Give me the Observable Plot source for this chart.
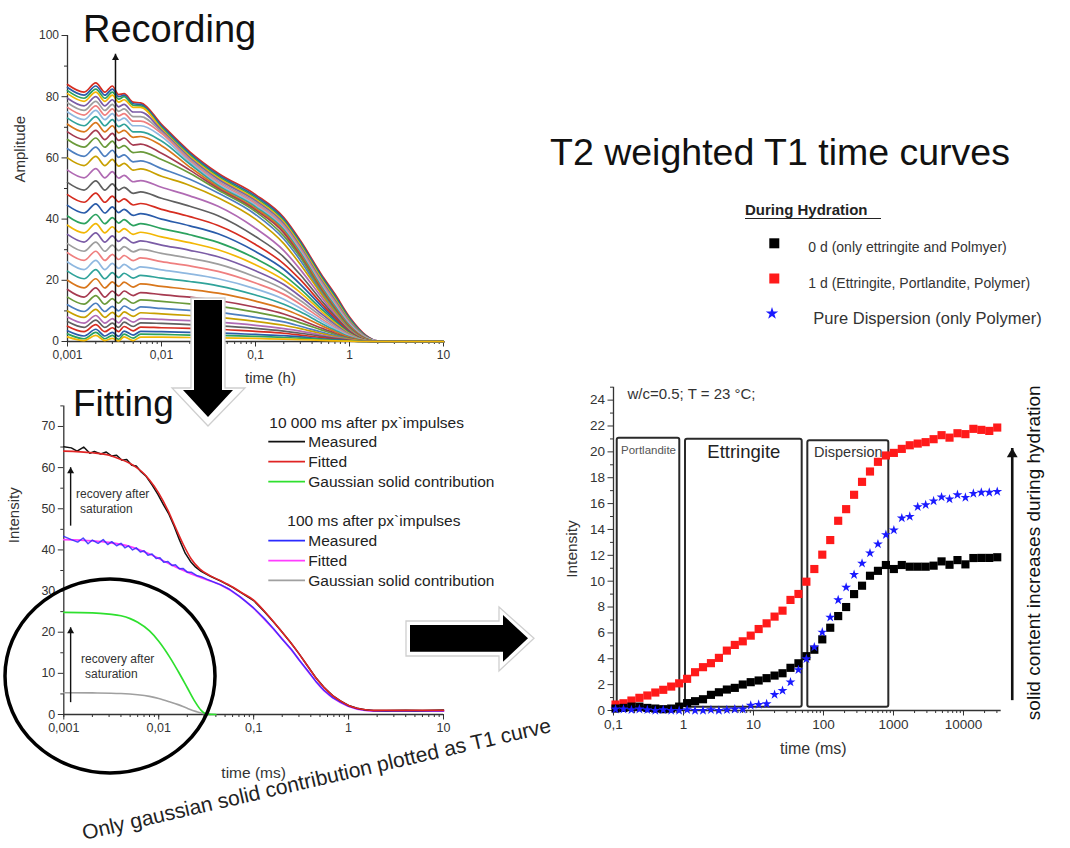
<!DOCTYPE html>
<html><head><meta charset="utf-8">
<script src="https://cdn.jsdelivr.net/npm/d3@7"></script>
<script src="https://cdn.jsdelivr.net/npm/@observablehq/plot@0.6"></script>
<style>
body{margin:0;background:#fff;}
#root{position:relative;width:1070px;height:848px;overflow:hidden;background:#fff;font-family:'Liberation Sans',Arial,Helvetica,sans-serif;}
#root svg.plot{position:absolute;}
</style></head><body><div id="root"></div>
<script>
// ---------- Recording panel data (amplitude vs time in h) ----------
const recTimes = [0.001,0.0015,0.002,0.0025,0.003,0.0035,0.004,0.005,0.006,0.01,0.02,0.04,0.1,0.2,0.3,0.5,0.7,1,1.5,2,10];
const recCurves = [
[84,81.5,84.5,81.5,83.5,80.7,81,78.2,78,71,62,55,48,40.5,33,22,15.5,8,2,0.2,0],
[83,80.5,83.5,80.5,82.5,80,80.5,77.7,77.5,70.5,61.5,54.5,47.5,40,32.5,21.5,15,7.6,1.8,0.2,0],
[82,79.5,82.5,79.5,81.5,79.2,80,77.2,77,70,61,54,47,39.5,32,21,14.5,7.2,1.6,0.1,0],
[81,78.5,81.5,78.5,80.5,78.2,79,76.5,76.5,69.5,60.5,53.5,46.5,39,31.5,20.5,14,6.8,1.5,0.1,0],
[79.5,77,80,77,79,76.7,77.5,75,75,69,60,53,46,38.5,31,20,13.5,6.5,1.4,0.1,0],
[78,75.5,78.5,75.5,77.5,75.2,76,73.5,73.5,68.5,59.5,52.5,45.5,38,30.5,19.5,13,6.2,1.3,0.1,0],
[76.5,74,77,74,76,73.7,74.5,72,72,68,59,52,45,37.5,30,19,12.5,5.9,1.2,0.1,0],
[75,72.5,75.5,72.5,74.5,72.2,73,70.5,70.5,67,58.5,51.5,44.5,37,29.5,18.5,12,5.6,1.1,0.1,0],
[73,70.5,73.5,70.5,72.5,70.2,71,68.5,68.5,65.5,58,51,44,36.5,29,18,11.5,5.3,1,0,0],
[71,68.5,71.5,68.5,70.5,68.2,69,66.7,67,64,57,50.5,43.5,36,28.5,17.5,11,5,0.9,0,0],
[68.5,66,69,66,68,65.7,66.5,64.2,64.5,61.5,56,50,43,35.5,28,17,10.7,4.7,0.8,0,0],
[66,63.5,66.5,63.5,65.5,63.2,64,61.7,62,59.5,55,49.5,42.5,34.5,27.5,16.5,10.3,4.4,0.7,0,0],
[63,60.5,63.5,60.5,62.5,60.2,61,58.7,59,56.5,53,48.5,41.5,33.5,26.5,16,9.9,4.1,0.6,0,0],
[60,57.5,60.5,57.5,59.5,57.3,58.2,56,56.4,54,51,47,40,32,25.2,15.6,9.6,3.9,0.6,0,0],
[56,53.5,56.5,53.5,55.5,53.4,54.3,52.2,52.6,50.4,47.6,44.2,37,29.7,23.5,14.6,9,3.6,0.5,0,0],
[52,49.5,52.5,49.5,51.5,49.5,50.4,48.4,48.9,46.8,44.2,41.1,34.3,27.6,21.8,13.5,8.3,3.4,0.5,0,0],
[48,45.5,48.5,45.5,47.5,45.6,46.6,44.6,45.1,43.2,40.8,37.9,31.7,25.4,20.2,12.5,7.7,3.1,0.4,0,0],
[44.5,42,45,42,44,42.1,43.2,41.2,41.8,40,37.8,35.2,29.4,23.6,18.7,11.6,7.1,2.9,0.4,0,0],
[41,38.5,41.5,38.5,40.5,38.7,39.8,37.9,38.5,36.9,34.9,32.4,27.1,21.7,17.2,10.7,6.6,2.7,0.3,0,0],
[38,35.5,38.5,35.5,37.5,35.7,36.9,35,35.7,34.2,32.3,30,25.1,20.1,16,9.9,6.1,2.5,0.3,0,0],
[35,32.5,35.5,32.5,34.5,32.7,34,32.2,32.9,31.5,29.8,27.7,23.1,18.6,14.7,9.1,5.6,2.3,0.3,0,0],
[32,29.5,32.5,29.5,31.5,29.7,31,29.3,30.1,28.8,27.2,25.3,21.1,17,13.4,8.3,5.1,2.1,0.3,0,0],
[29,26.5,29.5,26.5,28.5,26.8,28.1,26.4,27.3,26.1,24.7,22.9,19.1,15.4,12.2,7.5,4.6,1.9,0.2,0,0],
[26,23.5,26.5,23.5,25.5,23.9,25.2,23.5,24.4,23.4,22.1,20.5,17.2,13.8,10.9,6.8,4.2,1.7,0.2,0,0],
[23,20.5,23.5,20.5,22.5,20.9,22.3,20.7,21.6,20.7,19.6,18.2,15.2,12.2,9.7,6,3.7,1.5,0.2,0,0],
[20,17.5,20.5,17.5,19.5,18,19.4,17.8,18.8,18,17,15.8,13.2,10.6,8.4,5.2,3.2,1.3,0.2,0,0],
[17,14.5,17.5,14.5,16.5,15,16.5,15,16,15.3,14.5,13.4,11.2,9,7.1,4.4,2.7,1.1,0.1,0,0],
[14.5,12.2,15,12.2,14,12.5,14.1,12.5,13.6,13.1,12.3,11.5,9.6,7.7,6.1,3.8,2.3,0.9,0.1,0,0],
[12,9.8,12.5,9.8,11.5,10,11.6,10.2,11.3,10.8,10.2,9.5,7.9,6.4,5,3.1,1.9,0.8,0.1,0,0],
[10,7.9,10.5,7.9,9.5,8.1,9.7,8.2,9.4,9,8.5,7.9,6.6,5.3,4.2,2.6,1.6,0.7,0.1,0,0],
[8,6,8.5,6,7.5,6.1,7.8,6.3,7.5,7.2,6.8,6.3,5.3,4.2,3.4,2.1,1.3,0.5,0.1,0,0],
[6.5,4.6,7,4.6,6,4.6,6.3,4.9,6.1,5.9,5.5,5.1,4.3,3.4,2.7,1.7,1,0.4,0,0,0],
[5,3.2,5.5,3.2,4.5,3.2,4.9,3.5,4.7,4.5,4.3,4,3.3,2.7,2.1,1.3,0.8,0.3,0,0,0],
[3.5,1.8,4,1.8,3,1.7,3.4,2.1,3.3,3.2,3,2.8,2.3,1.9,1.5,0.9,0.6,0.2,0,0,0],
[2.5,0.9,3,0.9,2,0.7,2.4,1.1,2.4,2.3,2.1,2,1.7,1.3,1.1,0.7,0.4,0.2,0,0,0],
[1.5,0.3,2,0.3,1,0.2,1.5,0.3,1.4,1.4,1.3,1.2,1,0.8,0.6,0.4,0.2,0.1,0,0,0]
];
const recPalette = ["#d62d20","#2a5caa","#2ca25f","#f2b705","#7b5ca6","#9e9e9e","#ef7f7f","#8fb8e0","#30a39a","#d9771c","#a63a50","#6a9a3a","#4d7fc0","#c8a000","#b06ab3","#606060"];
const recXTicks = [0.001,0.01,0.1,1,10];
const recXLabels = ["0,001","0,01","0,1","1","10"];
const recYTicks = [0,20,40,60,80,100];
const recYMinor = [10,30,50,70,90];
const recArrow = [{t:0.00324, from:0, to:94}];

// ---------- Fitting panel data (intensity vs time in ms) ----------
const fitMeasured10000 = [[0.001,65.1],[0.0012,64.8],[0.00138,64.0],[0.00162,65.0],[0.00188,63.5],[0.0021,63.9],[0.00245,63.3],[0.0028,63.8],[0.0032,62.8],[0.0036,63.0],[0.0041,61.8],[0.0046,62.0],[0.0052,60.6],[0.0058,60.4],[0.0065,59.0],[0.0073,58.0],[0.0085,55.8],[0.0098,53.5],[0.0112,51.0],[0.0128,48.7],[0.0145,45.8],[0.0165,42.5],[0.019,39.2],[0.0216,37.2],[0.0245,35.8],[0.028,34.8],[0.035,33.6],[0.045,32.4],[0.06,30.9],[0.075,29.5],[0.1,27.7],[0.13,25.0],[0.163,22.4],[0.2,20.0],[0.245,17.5],[0.3,14.8],[0.367,11.9],[0.45,9.0],[0.55,6.6],[0.68,4.6],[0.82,3.3],[1.0,2.2],[1.23,1.5],[1.5,1.15],[1.84,1.0],[2.5,1.0],[4,1.05],[6,1.0],[10,1.1]];
const fitFitted10000 = [[0.001,64.0],[0.002,63.6],[0.003,63.0],[0.004,62.0],[0.005,61.0],[0.006,59.8],[0.007,58.5],[0.008,57.0],[0.01,53.8],[0.0125,49.6],[0.015,45.5],[0.018,41.5],[0.022,37.8],[0.027,35.4],[0.035,33.7],[0.045,32.5],[0.06,31.0],[0.075,29.6],[0.1,27.8],[0.13,25.1],[0.163,22.5],[0.2,20.0],[0.245,17.5],[0.3,14.8],[0.367,11.9],[0.45,9.0],[0.55,6.6],[0.68,4.6],[0.82,3.3],[1.0,2.2],[1.23,1.5],[1.5,1.15],[1.84,1.0],[3,1.0],[10,1.0]];
const fitGauss10000 = [[0.001,24.8],[0.002,24.7],[0.003,24.4],[0.004,24.0],[0.005,23.3],[0.006,22.4],[0.008,20.3],[0.01,17.8],[0.013,14.0],[0.016,10.5],[0.02,6.5],[0.024,3.2],[0.028,1.0],[0.032,0.1],[0.04,0]];
const fitMeasured100 = [[0.001,43.3],[0.0012,42.5],[0.0014,41.9],[0.0016,42.9],[0.0018,41.5],[0.002,42.4],[0.0023,41.6],[0.0026,42.5],[0.0029,41.3],[0.0032,42.0],[0.0036,41.0],[0.004,41.6],[0.0044,40.5],[0.0048,41.0],[0.0053,40.0],[0.0058,40.5],[0.0064,39.5],[0.007,39.8],[0.0077,38.7],[0.0085,39.0],[0.0094,37.9],[0.0103,38.1],[0.0113,37.0],[0.0125,37.2],[0.0138,36.2],[0.015,36.4],[0.0165,35.4],[0.018,35.5],[0.02,34.6],[0.022,34.6],[0.025,33.8],[0.028,33.5],[0.032,32.9],[0.037,32.3],[0.045,31.5],[0.055,30.5],[0.072,28.6],[0.1,25.9],[0.13,23.3],[0.163,20.8],[0.2,18.3],[0.25,15.8],[0.3,13.3],[0.37,10.7],[0.45,8.1],[0.55,5.9],[0.68,4.1],[0.82,3.0],[1.0,2.0],[1.23,1.4],[1.5,1.05],[1.84,0.9],[2.5,0.8],[3.5,0.9],[5,0.8],[7,0.9],[10,0.85]];
const fitFitted100 = [[0.001,42.5],[0.002,42.2],[0.003,41.8],[0.005,40.8],[0.008,39.0],[0.012,37.0],[0.02,34.6],[0.03,33.0],[0.045,31.5],[0.07,28.8],[0.1,25.8],[0.163,20.7],[0.25,15.7],[0.37,10.6],[0.55,5.8],[0.82,2.9],[1.23,1.3],[1.84,0.85],[3,0.8],[10,0.8]];
const fitGauss100 = [[0.001,5.3],[0.002,5.25],[0.004,5.1],[0.006,4.8],[0.008,4.4],[0.01,3.9],[0.013,3.1],[0.016,2.4],[0.02,1.5],[0.025,0.7],[0.03,0.2],[0.035,0]];
const fitXTicks = [0.001,0.01,0.1,1,10];
const fitXLabels = ["0,001","0,01","0,1","1","10"];
const fitYTicks = [0,10,20,30,40,50,60,70];
const fitYMinor = [5,15,25,35,45,55,65,75];
const fitArrows = [{t:0.00118, from:45.9, to:60.1},{t:0.00118, from:3.0, to:21.2}];
const fitLegendGroups = ["10 000 ms after px`impulses","100 ms after px`impulses"];
const fitLegendNames = ["Measured","Fitted","Gaussian solid contribution"];
const fitLegendColors = [["#111111","#e02424","#2ee02e"],["#2b2bff","#ff3dff","#a0a0a0"]];

// ---------- T1 curves panel data (intensity vs time in ms) ----------
const t1Times = [0.1069,0.1389,0.1804,0.2344,0.3043,0.3954,0.5136,0.6671,0.8666,1.126,1.462,1.899,2.467,3.205,4.163,5.408,7.025,9.125,11.85,15.40,20.00,25.98,33.75,43.84,56.94,73.96,96.07,124.8,162.1,210.6,273.5,355.3,461.5,599.6,778.8,1012,1314,1707,2218,2881,3741,4860,6313,8201,10652,13836,17973,23346,30326];
const t1Day1 = [0.46,0.56,0.77,0.98,1.16,1.39,1.6,1.85,2.1,2.45,2.96,3.35,3.66,4.07,4.63,5.07,5.35,5.79,6.3,6.74,7.26,7.72,8.55,9.01,9.96,10.94,12.05,13.18,14.67,15.57,16.68,17.68,18.48,19.23,19.72,19.92,20.23,20.51,20.64,20.75,20.98,21.29,21.1,21.44,21.37,21.78,21.7,21.62,21.88];
const t1Day0 = [0.15,0.2,0.3,0.3,0.2,0.15,0.1,0.15,0.3,0.57,0.72,0.87,1.21,1.41,1.62,1.75,2.01,2.19,2.32,2.5,2.7,2.88,3.3,3.65,4.2,4.7,5.5,6.4,7.3,8.0,9.0,9.65,10.42,10.8,11.25,10.94,11.25,11.12,11.12,11.12,11.2,11.53,11.27,11.63,11.3,11.79,11.8,11.8,11.85];
const t1Dispersion = [0.1,0.1,0.05,0.1,0.05,0,0.05,0,0,0.05,0,0,0.05,0,0.05,0.1,0.1,0.39,0.46,0.51,1.23,1.54,2.19,3.14,3.99,4.9,6.05,7.2,8.55,9.52,10.5,11.38,12.17,12.87,13.59,13.95,14.88,15.0,15.75,15.9,16.2,16.5,16.35,16.68,16.47,16.78,16.86,16.86,16.93];
const t1Regions = [
  {label:"Portlandite", from:0.113, to:0.885, bottom:0.25, top:21.05},
  {label:"Ettringite", from:1.068, to:49.6, bottom:0.25, top:20.98},
  {label:"Dispersion", from:59.7, to:857, bottom:0.25, top:20.85}
];
const t1XTicks = [0.1,1,10,100,1000,10000];
const t1XLabels = ["0,1","1","10","100","1000","10000"];
const t1YTicks = [0,2,4,6,8,10,12,14,16,18,20,22,24];
const t1YMinor = [1,3,5,7,9,11,13,15,17,19,21,23,25];
const t1Arrow = [{t:49700, from:0.8, to:20.3}];
const legendEntries = ["0 d (only ettringite and Polmyer)","1 d (Ettringite, Portlandite, Polymer)","Pure Dispersion (only Polymer)"];

// ---------- helpers ----------
const FONT = "'Liberation Sans', Arial, Helvetica, sans-serif";
const root = document.getElementById("root");
function axesMarks(xMin, xTicks, xLabels, yTicks, yMinor, fs, xDomain) {
  const minor = d3.scaleLog().domain(xDomain).ticks();
  return [
    Plot.axisX({ticks: minor, tickSize: 3, tickFormat: () => "", label: null, stroke: "#333"}),
    Plot.axisX({ticks: xTicks, tickSize: 5.5, tickPadding: 3, tickFormat: d => xLabels[xTicks.indexOf(d)], label: null, fontSize: fs, stroke: "#333", fill: "#333"}),
    Plot.axisY({ticks: yMinor, tickSize: 3, tickFormat: () => "", label: null, stroke: "#333"}),
    Plot.axisY({ticks: yTicks, tickSize: 5.5, tickPadding: 3, label: null, fontSize: fs, stroke: "#333", fill: "#333"}),
    Plot.ruleX([xMin], {stroke: "#333", strokeWidth: 1.3}),
    Plot.ruleY([0], {stroke: "#333", strokeWidth: 1.3})
  ];
}
function arrowMarks(data, headR, sw) {
  return [
    Plot.link(data, {x1: "t", x2: "t", y1: "from", y2: "to", stroke: "#111", strokeWidth: sw}),
    Plot.dot(data, {x: "t", y: "to", symbol: "triangle", r: headR, fill: "#111", stroke: "none", dy: headR * 1.55})
  ];
}
function place(svg, left, top) {
  svg.classList.add("plot");
  svg.style.left = left + "px";
  svg.style.top = top + "px";
  root.appendChild(svg);
}

// ---------- Recording ----------
const recData = recCurves.flatMap((row, k) => row.map((v, j) => ({t: recTimes[j], v, curve: k, color: recPalette[k % recPalette.length]})));
const rec = Plot.plot({
  width: 460, height: 390,
  marginLeft: 67, marginRight: 17, marginTop: 35, marginBottom: 49,
  x: {type: "log", domain: [0.001, 10]},
  y: {domain: [0, 100]},
  color: {type: "identity"},
  style: {fontFamily: FONT, fontSize: "12px", color: "#333", background: "transparent", overflow: "visible"},
  marks: [
    ...axesMarks(0.001, recXTicks, recXLabels, recYTicks, recYMinor, 12, [0.001, 10]),
    Plot.line(recData, {x: "t", y: "v", z: "curve", stroke: "color", strokeWidth: 1.7, curve: "monotone-x"}),
    ...arrowMarks(recArrow, 2.6, 1.5),
    Plot.text(["time (h)"], {text: d => d, frameAnchor: "bottom", dy: 41, dx: 15, fontSize: 15, fill: "#333"}),
    Plot.text(["Amplitude"], {text: d => d, frameAnchor: "left", rotate: -90, dx: -47, dy: -6, fontSize: 15, fill: "#333"})
  ]
});
place(rec, 0, 0);

// ---------- Fitting ----------
const P = d => d[0], V = d => d[1];
const fit = Plot.plot({
  width: 470, height: 420,
  marginLeft: 63.3, marginRight: 27, marginTop: 25.4, marginBottom: 86,
  x: {type: "log", domain: [0.001, 10]},
  y: {domain: [0, 75]},
  style: {fontFamily: FONT, fontSize: "12.5px", color: "#333", background: "transparent", overflow: "visible"},
  marks: [
    ...axesMarks(0.001, fitXTicks, fitXLabels, fitYTicks, fitYMinor, 12.5, [0.001, 10]),
    Plot.line(fitGauss100, {x: P, y: V, stroke: fitLegendColors[1][2], strokeWidth: 1.6, curve: "monotone-x"}),
    Plot.line(fitGauss10000, {x: P, y: V, stroke: fitLegendColors[0][2], strokeWidth: 1.7, curve: "monotone-x"}),
    Plot.line(fitFitted100, {x: P, y: V, stroke: fitLegendColors[1][1], strokeWidth: 1.8, curve: "monotone-x"}),
    Plot.line(fitMeasured100, {x: P, y: V, stroke: fitLegendColors[1][0], strokeWidth: 1.5, strokeOpacity: 0.85}),
    Plot.line(fitMeasured10000, {x: P, y: V, stroke: fitLegendColors[0][0], strokeWidth: 1.5}),
    Plot.line(fitFitted10000, {x: P, y: V, stroke: fitLegendColors[0][1], strokeWidth: 1.6, curve: "monotone-x"}),
    ...arrowMarks(fitArrows, 2.6, 1.4),
    Plot.text(["time (ms)"], {text: d => d, frameAnchor: "bottom", dy: 63, fontSize: 15.5, fill: "#333"}),
    Plot.text(["Intensity"], {text: d => d, frameAnchor: "left", rotate: -90, dx: -50, dy: -17, fontSize: 15, fill: "#333"})
  ]
});
place(fit, 0, 380);

// ---------- T1 curves ----------
const t1Red = t1Times.map((t, i) => ({t, v: t1Day1[i]}));
const t1Black = t1Times.map((t, i) => ({t, v: t1Day0[i]}));
const t1Blue = t1Times.map((t, i) => ({t, v: t1Dispersion[i]}));
const t1 = Plot.plot({
  width: 500, height: 410,
  marginLeft: 53, marginRight: 59.3, marginTop: 16.7, marginBottom: 70,
  x: {type: "log", domain: [0.1, 34560]},
  y: {domain: [0, 25]},
  style: {fontFamily: FONT, fontSize: "13.5px", color: "#333", background: "transparent", overflow: "visible"},
  marks: [
    ...axesMarks(0.1, t1XTicks, t1XLabels, t1YTicks, t1YMinor, 13.5, [0.1, 34560]),
    Plot.rect(t1Regions, {x1: "from", x2: "to", y1: "bottom", y2: "top", fill: "none", stroke: "#2a2a2a", strokeWidth: 2, rx: 2}),
    Plot.text(t1Regions.slice(0, 1), {x: d => Math.sqrt(d.from * d.to), y: "top", text: "label", dy: 12, fontSize: 11.5, fill: "#555"}),
    Plot.text(t1Regions.slice(1, 2), {x: d => Math.sqrt(d.from * d.to), y: "top", text: "label", dy: 13, fontSize: 18.5, fill: "#222"}),
    Plot.text(t1Regions.slice(2, 3), {x: d => Math.sqrt(d.from * d.to), y: "top", text: "label", dy: 11, fontSize: 14.5, fill: "#333"}),
    Plot.dot(t1Red, {x: "t", y: "v", symbol: "square", r: 4.6, fill: "#ff1a1a", stroke: "none"}),
    Plot.dot(t1Black, {x: "t", y: "v", symbol: "square", r: 4.6, fill: "#000", stroke: "none"}),
    Plot.dot(t1Blue, {x: "t", y: "v", symbol: "star", r: 3.1, fill: "#1a1aff", stroke: "none"}),
    ...arrowMarks(t1Arrow, 4, 2.6),
    Plot.text(["solid content increases during hydration"], {text: d => d, x: 100000, y: 12.2, rotate: -90, fontSize: 19, fill: "#111"}),
    Plot.text(["w/c=0.5; T = 23 °C;"], {text: d => d, frameAnchor: "top-left", dx: 14, dy: 1, textAnchor: "start", fontSize: 15, fill: "#333"}),
    Plot.text(["time (ms)"], {text: d => d, frameAnchor: "bottom", dy: 43, dx: 6, fontSize: 16, fill: "#333"}),
    Plot.text(["Intensity"], {text: d => d, frameAnchor: "left", rotate: -90, dx: -41, dy: 29, fontSize: 15.5, fill: "#333"})
  ]
});
place(t1, 560, 370);

// ---------- overlay: titles, legends, block arrows, ellipse, captions ----------
const star = d3.symbol(d3.symbolStar, 48)();
const fitLegendY = [[441.7, 461.7, 481.7], [540.7, 560.7, 580.3]];
const fitLegendHeadY = [422.7, 520.7];
const fitLegendHeadX = [269.3, 287.3];
let leg = "";
fitLegendGroups.forEach((g, gi) => {
  leg += `<text x="${fitLegendHeadX[gi]}" y="${fitLegendHeadY[gi]}" dominant-baseline="central" font-size="15.5" fill="#222">${g}</text>`;
  fitLegendNames.forEach((n, ni) => {
    const y = fitLegendY[gi][ni];
    leg += `<line x1="268.3" x2="305" y1="${y}" y2="${y}" stroke="${fitLegendColors[gi][ni]}" stroke-width="1.8"/>`;
    leg += `<text x="308.3" y="${y}" dominant-baseline="central" font-size="15.5" fill="#222">${n}</text>`;
  });
});
const overlay = `
<svg width="1070" height="848" style="position:absolute;left:0;top:0" font-family="${FONT}">
  <text x="83" y="42" font-size="38" fill="#111">Recording</text>
  <text x="73" y="416" font-size="37" fill="#111">Fitting</text>
  <text x="550" y="165" font-size="37.5" fill="#111">T2 weighted T1 time curves</text>
  <text x="745" y="215" font-size="15" font-weight="bold" fill="#222">During Hydration</text>
  <line x1="745" x2="881" y1="218.5" y2="218.5" stroke="#222" stroke-width="1.2"/>
  <rect x="769.3" y="238.3" width="10" height="10" fill="#000"/>
  <rect x="769.3" y="273.5" width="10" height="10" fill="#ff1a1a"/>
  <path d="${star}" transform="translate(772,313.5)" fill="#1a1aff"/>
  <text x="808.3" y="252" font-size="14" fill="#333">${legendEntries[0]}</text>
  <text x="808.3" y="287.5" font-size="14" fill="#333">${legendEntries[1]}</text>
  <text x="813.3" y="324" font-size="16.5" fill="#333">${legendEntries[2]}</text>
  <polygon points="191,298 225,298 225,388 245,388 208,426 172,388 191,388" fill="#fff" stroke="#cfcfcf" stroke-width="1.3"/>
  <polygon points="194,300 222,300 222,390 233,390 208,417 183,390 194,390" fill="#000"/>
  <polygon points="406,621 499,621 499,607 534,638.3 499,671 499,656 406,656" fill="#fff" stroke="#cfcfcf" stroke-width="1.3"/>
  <polygon points="410,625 503,625 503,615 528,638.3 503,661.7 503,651.7 410,651.7" fill="#000"/>
  <ellipse cx="110" cy="676" rx="105" ry="97" fill="none" stroke="#000" stroke-width="3.5"/>
  ${leg}
  <text x="76" y="494" dominant-baseline="central" font-size="12" fill="#333">recovery after</text>
  <text x="80" y="508.5" dominant-baseline="central" font-size="12" fill="#333">saturation</text>
  <text x="81" y="658.5" dominant-baseline="central" font-size="12" fill="#333">recovery after</text>
  <text x="85" y="673.5" dominant-baseline="central" font-size="12" fill="#333">saturation</text>
  <text x="84" y="840" font-size="21" fill="#222" transform="rotate(-13 84 840)">Only gaussian solid contribution plotted as T1 curve</text>
</svg>`;
root.insertAdjacentHTML("beforeend", overlay);
</script></body></html>
